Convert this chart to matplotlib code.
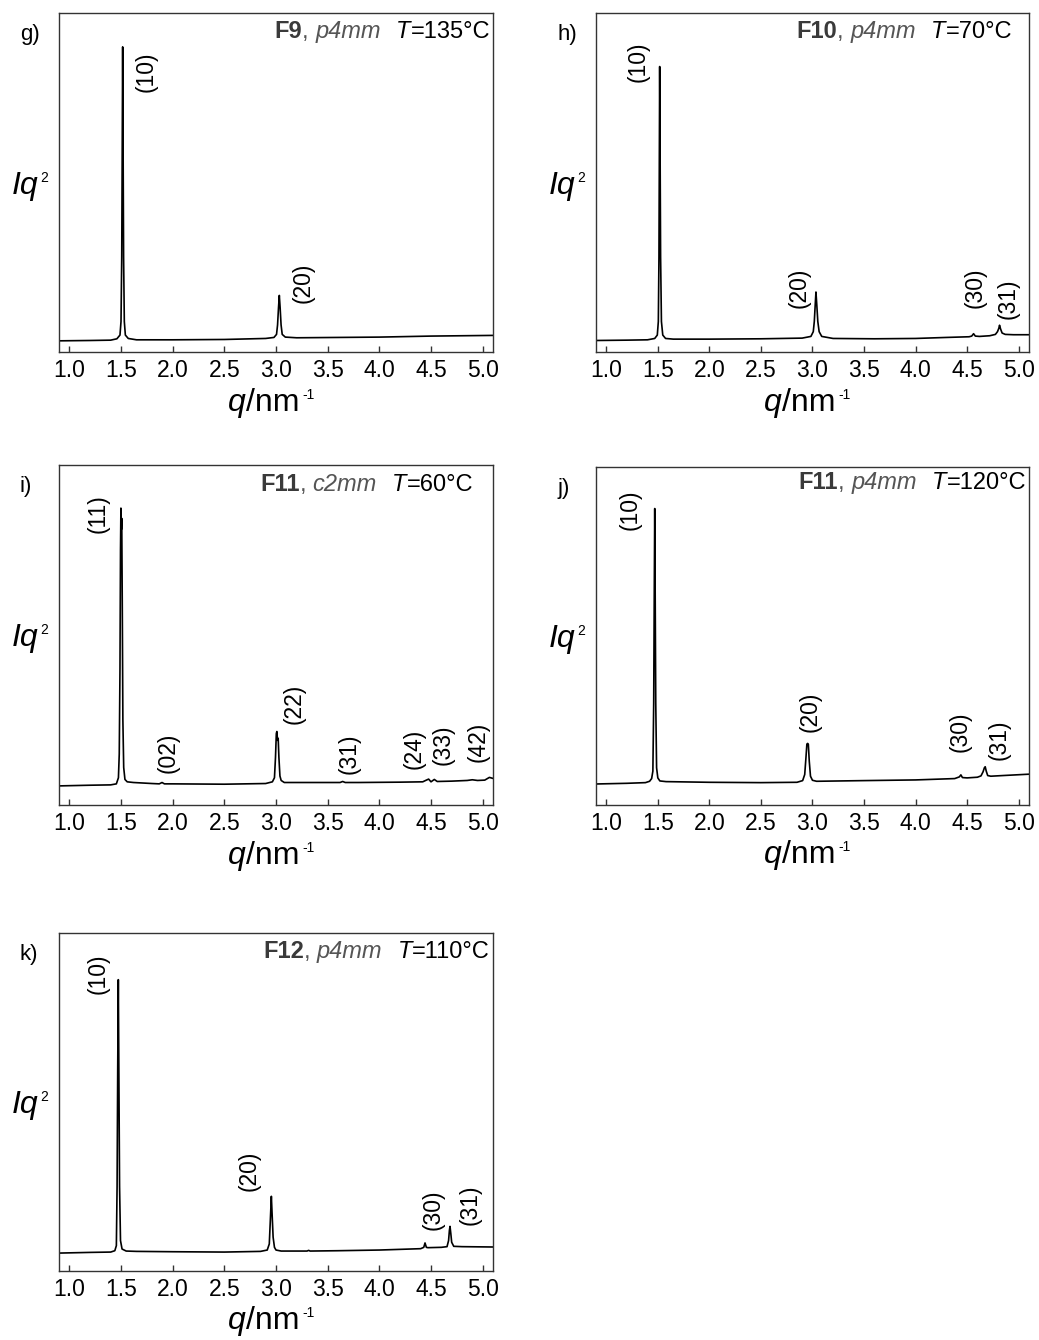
import matplotlib
matplotlib.use("Agg")
import matplotlib.pyplot as plt
from matplotlib.ticker import FormatStrFormatter

plt.rcParams['font.family'] = ['Liberation Sans', 'DejaVu Sans']

# x ticks shared by every panel
x_ticks = [1.0, 1.5, 2.0, 2.5, 3.0, 3.5, 4.0, 4.5, 5.0]

# panel g) F9, p4mm, 135 C  (Iq^2 as fraction of plot height)
g_q = [0.90, 1.20, 1.40, 1.46, 1.49, 1.50, 1.507, 1.512, 1.516, 1.520, 1.525, 1.532, 1.542, 1.57, 1.65,
       2.00, 2.50, 2.90, 2.98, 3.005, 3.015, 3.024, 3.032, 3.040, 3.049, 3.06, 3.09, 3.20, 3.60, 4.00, 4.50, 5.10]
g_iq = [0.033, 0.034, 0.035, 0.039, 0.050, 0.09, 0.28, 0.62, 0.90, 0.62, 0.28, 0.09, 0.050, 0.040, 0.036,
        0.036, 0.037, 0.040, 0.043, 0.052, 0.08, 0.13, 0.167, 0.13, 0.08, 0.052, 0.044, 0.042, 0.043, 0.044, 0.047, 0.049]
g_lab = ['(10)', '(20)']
g_lab_q = [1.742, 3.258]
g_lab_y = [0.828, 0.205]

# panel h) F10, p4mm, 70 C
h_q = [0.90, 1.20, 1.40, 1.47, 1.495, 1.505, 1.511, 1.515, 1.518, 1.522, 1.527, 1.535, 1.548, 1.575, 1.65,
       2.00, 2.50, 2.90, 2.985, 3.008, 3.018, 3.027, 3.034, 3.042, 3.052, 3.065, 3.09, 3.20, 3.60, 4.00, 4.30,
       4.52, 4.545, 4.563, 4.58, 4.62, 4.72, 4.775, 4.795, 4.808, 4.815, 4.825, 4.84, 4.87, 4.95, 5.10]
h_iq = [0.034, 0.035, 0.036, 0.040, 0.050, 0.09, 0.28, 0.60, 0.842, 0.60, 0.28, 0.09, 0.050, 0.040, 0.038,
        0.038, 0.039, 0.041, 0.046, 0.06, 0.09, 0.14, 0.177, 0.14, 0.09, 0.06, 0.046, 0.040, 0.039, 0.040, 0.043,
        0.045, 0.047, 0.054, 0.047, 0.046, 0.048, 0.052, 0.060, 0.070, 0.079, 0.068, 0.056, 0.052, 0.051, 0.051]
h_lab = ['(10)', '(20)', '(30)', '(31)']
h_lab_q = [1.31, 2.872, 4.58, 4.90]
h_lab_y = [0.855, 0.19, 0.19, 0.156]

# panel i) F11, c2mm, 60 C
i_q = [0.90, 1.20, 1.40, 1.455, 1.475, 1.483, 1.490, 1.495, 1.499, 1.503, 1.507, 1.512, 1.518, 1.526, 1.538,
       1.56, 1.62, 1.80, 1.87, 1.897, 1.92, 2.00, 2.50, 2.90, 2.965, 2.985, 2.995, 3.003, 3.008, 3.015, 3.021,
       3.028, 3.038, 3.05, 3.08, 3.20, 3.55, 3.62, 3.645, 3.67, 3.80, 4.20, 4.42, 4.455, 4.477, 4.50, 4.532,
       4.56, 4.70, 4.85, 4.90, 4.95, 5.02, 5.065, 5.10]
i_iq = [0.056, 0.058, 0.059, 0.062, 0.08, 0.15, 0.40, 0.75, 0.873, 0.81, 0.843, 0.60, 0.25, 0.11, 0.075,
        0.068, 0.066, 0.063, 0.062, 0.066, 0.062, 0.062, 0.061, 0.063, 0.068, 0.08, 0.14, 0.21, 0.216, 0.19, 0.196,
        0.14, 0.085, 0.072, 0.066, 0.066, 0.066, 0.066, 0.069, 0.066, 0.066, 0.067, 0.068, 0.073, 0.076, 0.068, 0.075,
        0.069, 0.070, 0.072, 0.074, 0.072, 0.073, 0.081, 0.078]
i_lab = ['(11)', '(02)', '(22)', '(31)', '(24)', '(33)', '(42)']
i_lab_q = [1.274, 1.952, 3.177, 3.71, 4.339, 4.613, 4.952]
i_lab_y = [0.858, 0.152, 0.297, 0.152, 0.165, 0.176, 0.186]

# panel j) F11, p4mm, 120 C
j_q = [0.90, 1.20, 1.38, 1.42, 1.44, 1.452, 1.460, 1.466, 1.470, 1.474, 1.480, 1.488, 1.50, 1.52, 1.58,
       2.00, 2.50, 2.85, 2.905, 2.925, 2.937, 2.946, 2.953, 2.960, 2.969, 2.981, 3.00, 3.04, 3.50, 4.00,
       4.38, 4.425, 4.44, 4.455, 4.50, 4.60, 4.635, 4.655, 4.668, 4.676, 4.686, 4.70, 4.73, 4.85, 5.10]
j_iq = [0.062, 0.064, 0.066, 0.070, 0.078, 0.10, 0.30, 0.65, 0.877, 0.65, 0.30, 0.11, 0.080, 0.071, 0.069,
        0.067, 0.066, 0.067, 0.072, 0.09, 0.14, 0.18, 0.182, 0.18, 0.13, 0.085, 0.073, 0.070, 0.072, 0.074,
        0.078, 0.083, 0.089, 0.081, 0.080, 0.082, 0.086, 0.098, 0.110, 0.113, 0.100, 0.087, 0.085, 0.087, 0.091]
j_lab = ['(10)', '(20)', '(30)', '(31)']
j_lab_q = [1.227, 2.976, 4.433, 4.812]
j_lab_y = [0.872, 0.276, 0.217, 0.192]

# panel k) F12, p4mm, 110 C
k_q = [0.90, 1.20, 1.40, 1.44, 1.455, 1.462, 1.468, 1.474, 1.479, 1.486, 1.495, 1.51, 1.55, 1.65,
       2.00, 2.50, 2.85, 2.915, 2.935, 2.945, 2.955, 2.962, 2.972, 2.985, 3.00, 3.05, 3.30, 3.316, 3.33,
       3.60, 4.00, 4.40, 4.43, 4.442, 4.455, 4.47, 4.60, 4.655, 4.670, 4.678, 4.684, 4.692, 4.70, 4.72, 4.80, 5.10]
k_iq = [0.053, 0.055, 0.056, 0.060, 0.075, 0.25, 0.60, 0.862, 0.60, 0.25, 0.09, 0.065, 0.059, 0.058,
        0.057, 0.056, 0.058, 0.062, 0.08, 0.15, 0.221, 0.17, 0.10, 0.070, 0.062, 0.059, 0.059, 0.061, 0.059,
        0.060, 0.062, 0.066, 0.070, 0.083, 0.070, 0.069, 0.070, 0.072, 0.090, 0.120, 0.132, 0.110, 0.085, 0.073, 0.072, 0.071]
k_lab = ['(10)', '(20)', '(30)', '(31)']
k_lab_q = [1.274, 2.742, 4.516, 4.877]
k_lab_y = [0.881, 0.296, 0.18, 0.195]

panels = [
    # letter, compound, symmetry, temperature, q, iq, labels, label q, label y, axes rect, title anchor
    ('g)', 'F9', 'p4mm', '=135°C', g_q, g_iq, g_lab, g_lab_q, g_lab_y, [0.0568, 0.7373, 0.4177, 0.2530], (0.993, 0.912)),
    ('h)', 'F10', 'p4mm', '=70°C', h_q, h_iq, h_lab, h_lab_q, h_lab_y, [0.5736, 0.7373, 0.4167, 0.2530], (0.961, 0.912)),
    ('i)', 'F11', 'c2mm', '=60°C', i_q, i_iq, i_lab, i_lab_q, i_lab_y, [0.0568, 0.3993, 0.4177, 0.2537], (0.954, 0.909)),
    ('j)', 'F11', 'p4mm', '=120°C', j_q, j_iq, j_lab, j_lab_q, j_lab_y, [0.5736, 0.3993, 0.4167, 0.2522], (0.993, 0.920)),
    ('k)', 'F12', 'p4mm', '=110°C', k_q, k_iq, k_lab, k_lab_q, k_lab_y, [0.0568, 0.0515, 0.4177, 0.2522], (0.993, 0.911)),
]

fig = plt.figure(figsize=(10.39, 13.40), dpi=100)
spine_col = '#333333'

for letter, comp, sym, temp, q, iq, labs, lab_q, lab_y, rect, tpos in panels:
    ax = fig.add_axes(rect)
    ax.plot(q, iq, color='black', lw=1.2)
    ax.set_xlim(0.9, 5.1)
    ax.set_ylim(0, 1)
    ax.set_xticks(x_ticks)
    ax.xaxis.set_major_formatter(FormatStrFormatter('%.1f'))
    ax.set_yticks([])
    ax.tick_params(axis='x', direction='in', length=4, width=1, color=spine_col,
                   labelsize=16.5, pad=5, top=False)
    for s in ax.spines.values():
        s.set_color(spine_col)
        s.set_linewidth(1.0)

    # x label: italic q, /nm and a small superscript
    xl = ax.text(0.43, -0.105, 'q', style='italic', fontsize=23, transform=ax.transAxes,
                 ha='right', va='top')
    xl = ax.annotate('/nm', xy=(1, 0), xycoords=xl, fontsize=23, ha='left', va='bottom')
    ax.annotate('-1', xy=(1, 1), xycoords=xl, xytext=(2, 0), textcoords='offset points',
                fontsize=10, ha='left', va='top')

    # y label: italic Iq with a small superscript 2
    yl = ax.text(-0.11, 0.49, 'Iq', style='italic', fontsize=23, transform=ax.transAxes,
                 ha='left', va='center')
    ax.annotate('2', xy=(1, 1), xycoords=yl, xytext=(2, 0), textcoords='offset points',
                fontsize=10, ha='left', va='top')

    ax.text(-0.09, 0.968, letter, transform=ax.transAxes, fontsize=16, ha='left', va='top')

    # peak indices
    for lab, lq, ly in zip(labs, lab_q, lab_y):
        ax.text(lq, ly, lab, rotation=90, fontsize=16.5, ha='center', va='center')

    # title built right to left
    t = ax.text(tpos[0], tpos[1], temp, transform=ax.transAxes, fontsize=17,
                ha='right', va='bottom', color='black')
    t = ax.annotate('T', xy=(0, 0), xycoords=t, fontsize=17, ha='right', va='bottom',
                    style='italic', color='black')
    t = ax.annotate(sym, xy=(0, 0), xycoords=t, xytext=(-11, 0), textcoords='offset points',
                    fontsize=17, ha='right', va='bottom', style='italic', color='#555555')
    t = ax.annotate(', ', xy=(0, 0), xycoords=t, fontsize=17, ha='right', va='bottom',
                    color='#555555')
    ax.annotate(comp, xy=(0, 0), xycoords=t, fontsize=17, ha='right', va='bottom',
                weight='bold', color='#3a3a3a')

fig.savefig('out.png', dpi=100)
